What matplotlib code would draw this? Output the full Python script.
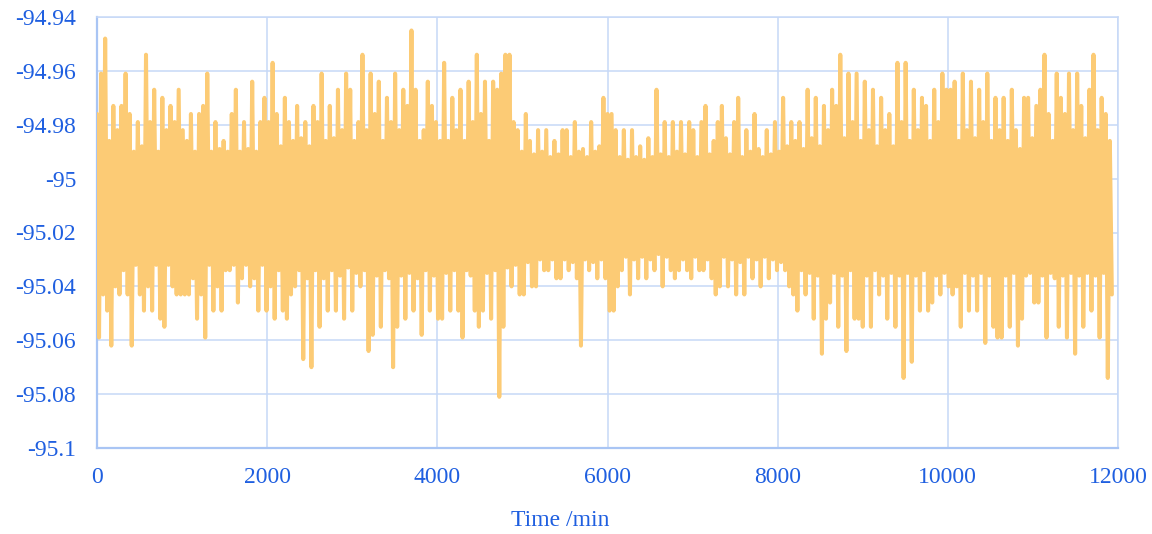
# Time trace of the signal (min) as a dense line plot
import numpy as np
import matplotlib
matplotlib.use('Agg')
import matplotlib.pyplot as plt
from matplotlib.ticker import FuncFormatter

# Local maxima, in time order (one per ~48 min)
highs = [
    # 0 - 2000 min
    -94.976, -94.961, -94.948, -94.986, -94.973, -94.982, -94.973, -94.961, -94.976, -94.990,
    -94.979, -94.988, -94.954, -94.979, -94.967, -94.990, -94.970, -94.982, -94.973, -94.979,
    -94.967, -94.982, -94.986, -94.976, -94.990, -94.976, -94.973, -94.961, -94.990, -94.979,
    -94.989, -94.986, -94.990, -94.976, -94.967, -94.990, -94.979, -94.989, -94.964, -94.990,
    -94.979, -94.970, -94.979,
    # 2000 - 4000 min
    -94.957, -94.976, -94.988, -94.970, -94.979, -94.986, -94.973, -94.985, -94.979, -94.988,
    -94.973, -94.979, -94.961, -94.986, -94.973, -94.985, -94.967, -94.982, -94.961, -94.967,
    -94.986, -94.979, -94.954, -94.982, -94.961, -94.976, -94.964, -94.986, -94.970, -94.979,
    -94.961, -94.982, -94.967, -94.973, -94.945, -94.967, -94.986, -94.982, -94.964, -94.973,
    -94.979, -94.986,
    # 4000 - 6000 min
    -94.957, -94.986, -94.970, -94.982, -94.967, -94.986, -94.964, -94.979, -94.954, -94.976,
    -94.964, -94.986, -94.964, -94.967, -94.961, -94.954, -94.954, -94.979, -94.982, -94.990,
    -94.976, -94.986, -94.991, -94.982, -94.990, -94.982, -94.992, -94.986, -94.991, -94.982,
    -94.982, -94.992, -94.979, -94.990, -94.989, -94.992, -94.979, -94.990, -94.988, -94.970,
    -94.976,
    # 6000 - 8000 min
    -94.976, -94.982, -94.992, -94.982, -94.993, -94.982, -94.992, -94.988, -94.993, -94.985,
    -94.992, -94.967, -94.991, -94.979, -94.992, -94.979, -94.990, -94.979, -94.991, -94.979,
    -94.982, -94.992, -94.979, -94.973, -94.991, -94.986, -94.979, -94.973, -94.985, -94.991,
    -94.979, -94.970, -94.992, -94.982, -94.990, -94.976, -94.989, -94.992, -94.982, -94.991,
    -94.979, -94.990,
    # 8000 - 10000 min
    -94.970, -94.988, -94.979, -94.986, -94.979, -94.989, -94.967, -94.985, -94.970, -94.988,
    -94.973, -94.982, -94.967, -94.973, -94.954, -94.985, -94.961, -94.979, -94.961, -94.986,
    -94.964, -94.982, -94.967, -94.988, -94.970, -94.982, -94.976, -94.988, -94.957, -94.979,
    -94.957, -94.986, -94.967, -94.982, -94.970, -94.973, -94.986, -94.967, -94.979, -94.961,
    -94.967,
    # 10000 - 11900 min
    -94.967, -94.964, -94.986, -94.961, -94.982, -94.964, -94.985, -94.967, -94.979, -94.961,
    -94.986, -94.970, -94.982, -94.970, -94.986, -94.967, -94.982, -94.989, -94.970, -94.970,
    -94.985, -94.973, -94.967, -94.954, -94.976, -94.986, -94.961, -94.970, -94.976, -94.961,
    -94.982, -94.961, -94.973, -94.985, -94.967, -94.954, -94.982, -94.970, -94.976, -94.986,
]

# Local minima, one after each maximum
lows = [
    # 0 - 2000 min
    -95.059, -95.043, -95.049, -95.062, -95.040, -95.043, -95.034, -95.043, -95.062, -95.032,
    -95.043, -95.049, -95.040, -95.049, -95.032, -95.052, -95.055, -95.032, -95.040, -95.043,
    -95.043, -95.043, -95.043, -95.037, -95.052, -95.043, -95.059, -95.032, -95.049, -95.040,
    -95.049, -95.034, -95.034, -95.032, -95.046, -95.037, -95.032, -95.040, -95.037, -95.049,
    -95.032, -95.049, -95.040,
    # 2000 - 4000 min
    -95.052, -95.034, -95.049, -95.052, -95.043, -95.040, -95.034, -95.067, -95.037, -95.070,
    -95.034, -95.055, -95.037, -95.049, -95.034, -95.049, -95.036, -95.052, -95.033, -95.049,
    -95.035, -95.040, -95.034, -95.064, -95.058, -95.036, -95.055, -95.034, -95.037, -95.070,
    -95.055, -95.036, -95.052, -95.035, -95.049, -95.037, -95.058, -95.034, -95.049, -95.036,
    -95.052, -95.052,
    # 4000 - 6000 min
    -95.035, -95.049, -95.034, -95.049, -95.059, -95.034, -95.036, -95.049, -95.055, -95.049,
    -95.035, -95.052, -95.034, -95.081, -95.055, -95.033, -95.040, -95.032, -95.043, -95.043,
    -95.031, -95.040, -95.040, -95.030, -95.034, -95.034, -95.030, -95.037, -95.037, -95.030,
    -95.034, -95.031, -95.037, -95.062, -95.030, -95.034, -95.031, -95.037, -95.030, -95.037,
    -95.049,
    # 6000 - 8000 min
    -95.049, -95.040, -95.034, -95.029, -95.043, -95.030, -95.037, -95.029, -95.037, -95.030,
    -95.034, -95.028, -95.040, -95.029, -95.034, -95.037, -95.034, -95.030, -95.034, -95.037,
    -95.029, -95.034, -95.034, -95.030, -95.037, -95.043, -95.040, -95.029, -95.040, -95.030,
    -95.043, -95.031, -95.043, -95.029, -95.037, -95.030, -95.040, -95.029, -95.037, -95.030,
    -95.034, -95.031,
    # 8000 - 10000 min
    -95.034, -95.040, -95.043, -95.049, -95.034, -95.043, -95.035, -95.052, -95.036, -95.065,
    -95.052, -95.046, -95.035, -95.055, -95.036, -95.064, -95.034, -95.052, -95.052, -95.055,
    -95.036, -95.055, -95.034, -95.043, -95.036, -95.052, -95.035, -95.055, -95.036, -95.074,
    -95.035, -95.068, -95.036, -95.049, -95.034, -95.049, -95.046, -95.036, -95.043, -95.035,
    -95.040,
    # 10000 - 11900 min
    -95.043, -95.040, -95.055, -95.035, -95.049, -95.036, -95.049, -95.035, -95.061, -95.036,
    -95.055, -95.059, -95.059, -95.036, -95.055, -95.035, -95.062, -95.052, -95.036, -95.035,
    -95.046, -95.046, -95.036, -95.059, -95.035, -95.037, -95.055, -95.036, -95.059, -95.035,
    -95.065, -95.036, -95.055, -95.035, -95.049, -95.036, -95.059, -95.035, -95.074, -95.043,
]

x_ticks = [0, 2000, 4000, 6000, 8000, 10000, 12000]
y_ticks = [-95.1, -95.08, -95.06, -95.04, -95.02, -95.0, -94.98, -94.96, -94.94]
step_min = 24  # time between successive extrema

# interleave maxima and minima into one trace
y = np.empty(len(highs) + len(lows))
y[0::2] = highs
y[1::2] = lows
t = np.arange(len(y)) * step_min

text_blue = '#1f5fe0'
grid_blue = '#c6d8f7'
axis_blue = '#a9c5f4'

plt.rcParams['font.family'] = ['Liberation Serif', 'DejaVu Serif']
plt.rcParams['axes.unicode_minus'] = False

fig = plt.figure(figsize=(11.52, 5.34), dpi=100)
ax = fig.add_axes([97 / 1152, 1 - 448 / 534, 1021 / 1152, 431 / 534])

ax.plot(t, y, color='#fccb75', lw=2.9, solid_joinstyle='round',
        solid_capstyle='round', zorder=3)

ax.set_xlim(0, 12000)
ax.set_ylim(-95.1, -94.94)
ax.set_xticks(x_ticks)
ax.set_yticks(y_ticks)
ax.yaxis.set_major_formatter(FuncFormatter(lambda v, p: '%g' % round(v, 3)))
ax.xaxis.set_major_formatter(FuncFormatter(lambda v, p: '%d' % v))

ax.grid(True, color=grid_blue, lw=1.1, zorder=0)
ax.tick_params(length=0, labelsize=17, labelcolor=text_blue)
ax.tick_params(axis='y', pad=15)
ax.tick_params(axis='x', pad=14)
for side in ['top', 'right']:
    ax.spines[side].set_color(grid_blue)
    ax.spines[side].set_linewidth(1.1)
for side in ['left', 'bottom']:
    ax.spines[side].set_color(axis_blue)
    ax.spines[side].set_linewidth(1.6)

fig.text(560 / 1152, 1 - 520 / 534, 'Time /min', ha='center', va='center',
         fontsize=17, color=text_blue)

fig.savefig('out.png', dpi=100)
